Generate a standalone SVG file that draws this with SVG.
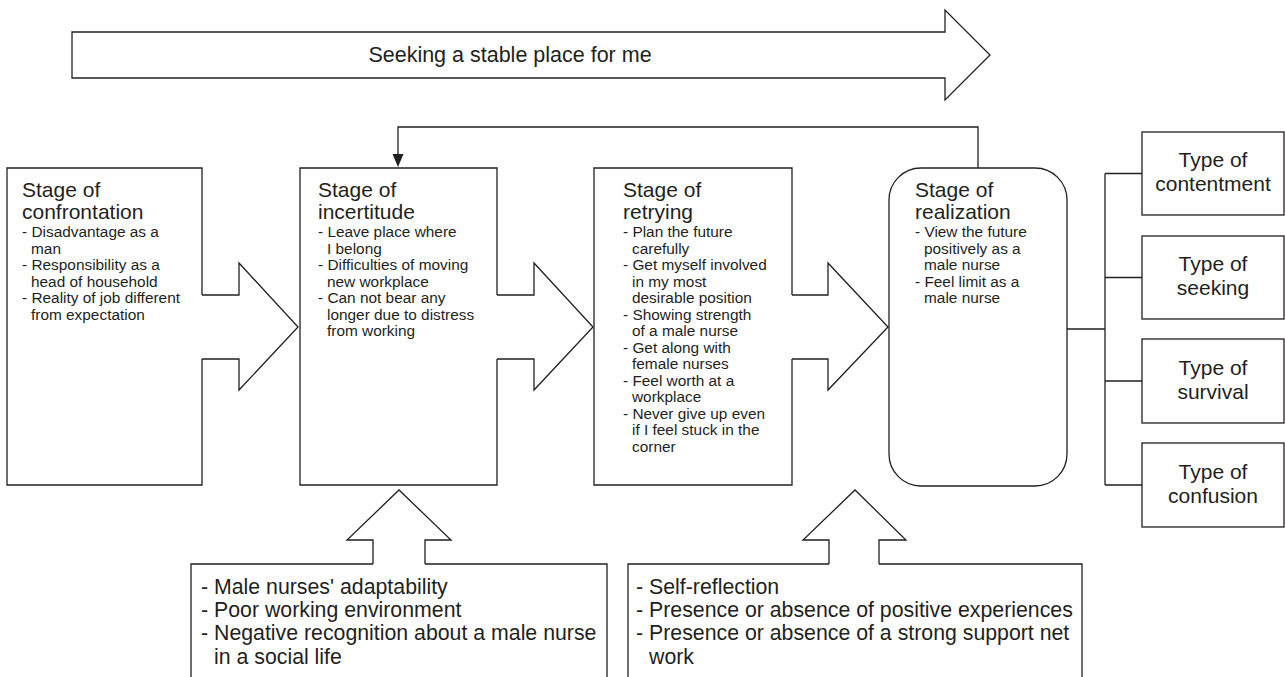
<svg xmlns="http://www.w3.org/2000/svg" width="1285" height="677" viewBox="0 0 1285 677">
<style>
.s{fill:#fff;stroke:#231f20;stroke-width:1.3;stroke-linejoin:miter}
.ln{fill:none;stroke:#231f20;stroke-width:1.3}
.ah{fill:#231f20;stroke:none}
text{font-family:"Liberation Sans",Arial,sans-serif;fill:#231f20}
.t{font-size:21px}
.i{font-size:15.4px}
.b{font-size:21.3px}
.ty{font-size:21px;text-anchor:middle}
</style>
<rect width="1285" height="677" fill="#fff"/>

<g id="top-arrow">
<path class="s" d="M72,32 H945 V10 L990,55 L945,100 V78 H72 Z"/>
<text x="510" y="62" font-size="21.5" text-anchor="middle">Seeking a stable place for me</text>
</g>

<g id="connectors">
<path class="ln" d="M978,168 V127 H398 V155"/>
<polygon class="ah" points="392.5,154 403.5,154 398,167"/>
<path class="ln" d="M1067,329 H1105 M1105,173.5 V485 M1105,173.5 H1142 M1105,277.5 H1142 M1105,381 H1142 M1105,485 H1142"/>
</g>

<g id="stage-confrontation">
<path class="s" d="M202,295 V168 H7 V485 H202 V359"/>
<path class="s" d="M202,295 H239 V263 L298,327 L239,390 V359 H202"/>
<text class="t"><tspan x="22" y="197">Stage of</tspan><tspan x="22" y="219">confrontation</tspan></text>
<text class="i"><tspan x="22" y="237">- Disadvantage as a</tspan><tspan x="31" y="253.5">man</tspan><tspan x="22" y="270">- Responsibility as a</tspan><tspan x="31" y="286.5">head of household</tspan><tspan x="22" y="303">- Reality of job different</tspan><tspan x="31" y="319.5">from expectation</tspan></text>
</g>

<g id="stage-incertitude">
<path class="s" d="M497,295 V168 H300 V485 H497 V359"/>
<path class="s" d="M497,295 H534 V263 L593,327 L534,390 V359 H497"/>
<text class="t"><tspan x="318" y="197">Stage of</tspan><tspan x="318" y="219">incertitude</tspan></text>
<text class="i"><tspan x="318" y="237">- Leave place where</tspan><tspan x="327" y="253.5">I belong</tspan><tspan x="318" y="270">- Difficulties of moving</tspan><tspan x="327" y="286.5">new workplace</tspan><tspan x="318" y="303">- Can not bear any</tspan><tspan x="327" y="319.5">longer due to distress</tspan><tspan x="327" y="336">from working</tspan></text>
</g>

<g id="stage-retrying">
<path class="s" d="M792,295 V168 H594 V485 H792 V359"/>
<path class="s" d="M792,295 H828 V263 L888,327 L828,390 V359 H792"/>
<text class="t"><tspan x="623" y="197">Stage of</tspan><tspan x="623" y="219">retrying</tspan></text>
<text class="i"><tspan x="623" y="237">- Plan the future</tspan><tspan x="632" y="253.5">carefully</tspan><tspan x="623" y="270">- Get myself involved</tspan><tspan x="632" y="286.5">in my most</tspan><tspan x="632" y="303">desirable position</tspan><tspan x="623" y="319.5">- Showing strength</tspan><tspan x="632" y="336">of a male nurse</tspan><tspan x="623" y="352.5">- Get along with</tspan><tspan x="632" y="369">female nurses</tspan><tspan x="623" y="385.5">- Feel worth at a</tspan><tspan x="632" y="402">workplace</tspan><tspan x="623" y="418.5">- Never give up even</tspan><tspan x="632" y="435">if I feel stuck in the</tspan><tspan x="632" y="451.5">corner</tspan></text>
</g>

<g id="stage-realization">
<rect class="s" x="889" y="168" width="178" height="318" rx="32" ry="32"/>
<text class="t"><tspan x="915" y="197">Stage of</tspan><tspan x="915" y="219">realization</tspan></text>
<text class="i"><tspan x="915" y="237">- View the future</tspan><tspan x="924" y="253.5">positively as a</tspan><tspan x="924" y="270">male nurse</tspan><tspan x="915" y="286.5">- Feel limit as a</tspan><tspan x="924" y="303">male nurse</tspan></text>
</g>

<g id="type-contentment">
<rect class="s" x="1142" y="132" width="142" height="83"/>
<text class="ty"><tspan x="1213" y="167">Type of</tspan><tspan x="1213" y="191">contentment</tspan></text>
</g>
<g id="type-seeking">
<rect class="s" x="1142" y="236" width="142" height="83"/>
<text class="ty"><tspan x="1213" y="271">Type of</tspan><tspan x="1213" y="295">seeking</tspan></text>
</g>
<g id="type-survival">
<rect class="s" x="1142" y="339" width="142" height="84"/>
<text class="ty"><tspan x="1213" y="375">Type of</tspan><tspan x="1213" y="399">survival</tspan></text>
</g>
<g id="type-confusion">
<rect class="s" x="1142" y="443" width="142" height="84"/>
<text class="ty"><tspan x="1213" y="479">Type of</tspan><tspan x="1213" y="503">confusion</tspan></text>
</g>

<g id="factors-left">
<path class="s" d="M373,564 H191 V690 H607 V564 H425"/>
<path class="s" d="M373,564 V540 H347 L399,490 L451,540 H425 V564"/>
<text class="b"><tspan x="201" y="594">- Male nurses' adaptability</tspan><tspan x="201" y="617">- Poor working environment</tspan><tspan x="201" y="640">- Negative recognition about a male nurse</tspan><tspan x="214" y="664">in a social life</tspan></text>
</g>

<g id="factors-right">
<path class="s" d="M829,564 H628 V690 H1082 V564 H879"/>
<path class="s" d="M829,564 V540 H803 L855,490 L906,540 H879 V564"/>
<text class="b"><tspan x="636" y="594">- Self-reflection</tspan><tspan x="636" y="617">- Presence or absence of positive experiences</tspan><tspan x="636" y="640">- Presence or absence of a strong support net</tspan><tspan x="649" y="664">work</tspan></text>
</g>
</svg>
